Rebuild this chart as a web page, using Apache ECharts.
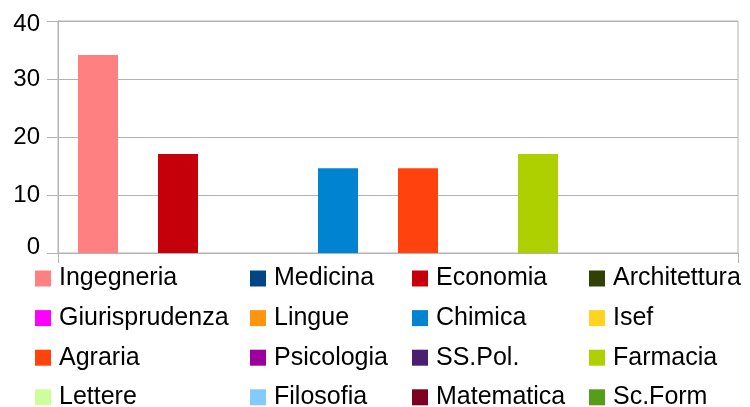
<!DOCTYPE html>
<html>
<head>
<meta charset="utf-8">
<script src="https://cdn.jsdelivr.net/npm/echarts@6/dist/echarts.min.js"></script>
<style>
  html, body { margin: 0; padding: 0; background: #fff; }
  #chart { width: 750px; height: 407px; }
</style>
</head>
<body>
<div id="chart"></div>
<script>
// Faculty names, in legend order (read by columns of rows)
const faculties = [
  'Ingegneria', 'Medicina', 'Economia', 'Architettura',
  'Giurisprudenza', 'Lingue', 'Chimica', 'Isef',
  'Agraria', 'Psicologia', 'SS.Pol.', 'Farmacia',
  'Lettere', 'Filosofia', 'Matematica', 'Sc.Form'
];
// Share per faculty (%)
const shares = [
  34.15, 0, 17.07, 0,
  0, 0, 14.63, 0,
  14.63, 0, 0, 17.07,
  0, 0, 0, 0
];
const colors = [
  '#ff8080', '#004586', '#c5000b', '#314004',
  '#ff00ff', '#ff950e', '#0084d1', '#ffd320',
  '#ff420e', '#9c009c', '#4b1f6f', '#aecf00',
  '#ccff99', '#83caff', '#7e0021', '#579d1c'
];
const yTicks = { min: 0, max: 40, interval: 10 };

const FONT = "'Liberation Sans', Arial, sans-serif";
const GRID_COLOR = '#b3b3b3';

const chart = echarts.init(document.getElementById('chart'), null, { renderer: 'canvas' });

const series = faculties.map((name, i) => ({
  name: name,
  type: 'bar',
  data: [shares[i]],
  barGap: '0%',
  barCategoryGap: (40 / 680 * 100) + '%',
  itemStyle: { color: colors[i] },
  animation: false
}));

// Legend: four columns, each a vertical list of four entries
const columnLeft = [35, 250, 412, 589];
const legends = columnLeft.map((left, c) => ({
  orient: 'vertical',
  left: left,
  top: 266,
  height: 200,
  padding: 0,
  itemWidth: 16,
  itemHeight: 16,
  itemGap: 14.6,
  icon: 'rect',
  selectedMode: false,
  data: [0, 1, 2, 3].map(r => faculties[r * 4 + c]),
  textStyle: {
    fontFamily: FONT,
    fontSize: 25,
    lineHeight: 22,
    color: '#000',
    padding: [0, 0, 0, 3]
  }
}));

chart.setOption({
  animation: false,
  backgroundColor: '#fff',
  grid: {
    left: 58, right: 12, top: 21, bottom: 154,
    show: true, borderColor: GRID_COLOR, borderWidth: 1,
    containLabel: false
  },
  legend: legends,
  xAxis: {
    type: 'category',
    data: [''],
    axisLine: { show: true, lineStyle: { color: GRID_COLOR } },
    axisTick: { show: true, length: 10, lineStyle: { color: GRID_COLOR } },
    axisLabel: { show: false }
  },
  yAxis: {
    type: 'value',
    min: yTicks.min, max: yTicks.max, interval: yTicks.interval,
    axisLine: { show: true, lineStyle: { color: GRID_COLOR } },
    axisTick: { show: true, length: 11, lineStyle: { color: GRID_COLOR } },
    splitLine: { show: true, lineStyle: { color: GRID_COLOR } },
    axisLabel: {
      fontFamily: FONT, fontSize: 24, color: '#000', margin: 18,
      // end labels sit slightly inside the plot range
      formatter: v => v === yTicks.max ? '{t|' + v + '}' : v === yTicks.min ? '{b|' + v + '}' : String(v),
      rich: {
        t: { fontFamily: FONT, fontSize: 24, color: '#000', padding: [6, 0, 0, 0] },
        b: { fontFamily: FONT, fontSize: 24, color: '#000', padding: [0, 0, 12, 0] }
      }
    }
  },
  series: series
});
</script>
</body>
</html>
